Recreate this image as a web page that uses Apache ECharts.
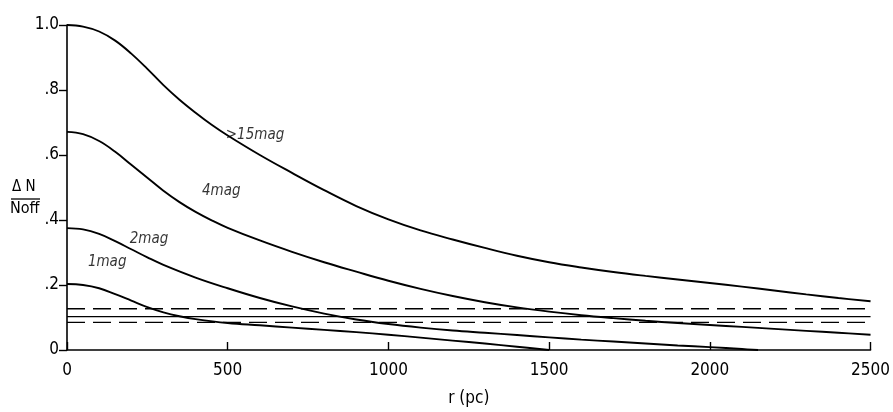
<!DOCTYPE html>
<html>
<head>
<meta charset="utf-8">
<script src="https://cdn.jsdelivr.net/npm/echarts@6/dist/echarts.min.js"></script>
<style>
html,body{margin:0;padding:0;background:#fff;}
#c{width:893px;height:412px;}
</style>
</head>
<body>
<div id="c"></div>
<script>
// radius r (pc)
const r15 = [0,50,100,150,200,250,300,350,400,450,500,600,700,800,900,1000,1100,1200,1300,1400,1500,1600,1700,1800,1900,2000,2100,2200,2300,2400,2500];
const v15 = [1.0,0.995,0.98,0.952,0.912,0.865,0.815,0.77,0.73,0.693,0.66,0.6,0.545,0.492,0.443,0.402,0.368,0.34,0.314,0.29,0.27,0.254,0.24,0.228,0.217,0.206,0.195,0.183,0.171,0.16,0.15];
const r4 = [0,50,100,150,200,250,300,350,400,450,500,600,700,800,900,1000,1100,1200,1300,1400,1500,1600,1700,1800,1900,2000,2100,2200,2300,2400,2500];
const v4 = [0.671,0.664,0.643,0.61,0.57,0.53,0.49,0.455,0.425,0.399,0.376,0.337,0.302,0.27,0.241,0.213,0.188,0.166,0.147,0.131,0.118,0.107,0.098,0.09,0.083,0.077,0.071,0.065,0.059,0.053,0.047];
const r2 = [0,50,100,150,200,250,300,400,500,600,700,800,900,1000,1100,1200,1300,1400,1500,1600,1700,1800,1900,2000,2100,2150];
const v2 = [0.375,0.371,0.357,0.335,0.31,0.285,0.262,0.223,0.19,0.16,0.134,0.112,0.094,0.08,0.069,0.06,0.053,0.046,0.039,0.032,0.026,0.02,0.014,0.009,0.003,0.0];
const r1 = [0,50,100,150,200,250,300,350,400,500,600,700,800,900,1000,1100,1200,1300,1400,1500];
const v1 = [0.203,0.2,0.19,0.172,0.152,0.132,0.116,0.104,0.095,0.083,0.076,0.069,0.062,0.055,0.047,0.038,0.029,0.02,0.01,0.0];
// horizontal reference levels
const levelUpper = 0.127;
const levelMid = 0.103;
const levelLower = 0.085;
const xRange = [0, 2500];
// curve labels: [text, r, value]
const curveLabels = [['>15mag', 585, 0.66], ['4mag', 480, 0.49], ['2mag', 255, 0.34], ['1mag', 125, 0.27]];
const xTicks = [0,500,1000,1500,2000,2500];
const yTickText = {0:'0',0.2:'.2',0.4:'.4',0.6:'.6',0.8:'.8',1:'1.0'};

const FONT = "'DejaVu Sans Condensed','Liberation Sans Narrow','Roboto',sans-serif";
function zip(a,b){return a.map((x,i)=>[x,b[i]]);}
function curve(name, rs, vs){
  return {name:name,type:'line',data:zip(rs,vs),smooth:0.4,symbol:'none',
    lineStyle:{color:'#000',width:1.9},z:3};
}
function level(v, dashed){
  return {type:'line',data:xRange.map(x=>[x,v]),symbol:'none',
    lineStyle:{color:'#000',width:1.3,type:dashed?[18,8]:'solid'},z:2};
}
const chart = echarts.init(document.getElementById('c'));
const series = [
  curve('>15mag', r15, v15),
  curve('4mag', r4, v4),
  curve('2mag', r2, v2),
  curve('1mag', r1, v1),
  level(levelUpper,true), level(levelMid,false), level(levelLower,true),
  {type:'scatter',data:curveLabels.map(l=>[l[1],l[2]]),symbolSize:0,silent:true,
   label:{show:true,position:'inside',formatter:p=>curveLabels[p.dataIndex][0],
     fontFamily:FONT,fontStyle:'italic',fontSize:15,color:'#000'}}
];
chart.setOption({
  animation:false,
  grid:{left:67,right:22,top:25,bottom:62,containLabel:false},
  xAxis:{type:'value',min:0,max:2500,interval:500,
    name:'r (pc)',nameLocation:'middle',nameGap:40,
    nameTextStyle:{fontFamily:FONT,fontSize:17,color:'#000'},
    axisLine:{lineStyle:{color:'#000',width:1.6}},
    axisTick:{inside:true,length:8,lineStyle:{color:'#000',width:1.4}},
    axisLabel:{fontFamily:FONT,fontSize:17,color:'#000',margin:12,
      formatter:v=>xTicks.includes(v)?String(v):''},
    splitLine:{show:false}},
  yAxis:{type:'value',min:0,max:1.0,interval:0.2,
    axisLine:{show:true,lineStyle:{color:'#000',width:1.6}},
    axisTick:{show:true,length:8,lineStyle:{color:'#000',width:1.4}},
    axisLabel:{fontFamily:FONT,fontSize:17,color:'#000',margin:8,
      formatter:v=>yTickText[Math.round(v*10)/10]},
    splitLine:{show:false}},
  graphic:[
    {type:'text',left:12,top:180,style:{text:'\u0394 N',font:"15px "+FONT,fill:'#000'}},
    {type:'line',shape:{x1:11,y1:199,x2:40,y2:199},style:{stroke:'#000',lineWidth:1.3}},
    {type:'text',left:10,top:201,style:{text:'Noff',font:"16px "+FONT,fill:'#000'}}
  ],
  series:series
});
</script>
</body>
</html>
